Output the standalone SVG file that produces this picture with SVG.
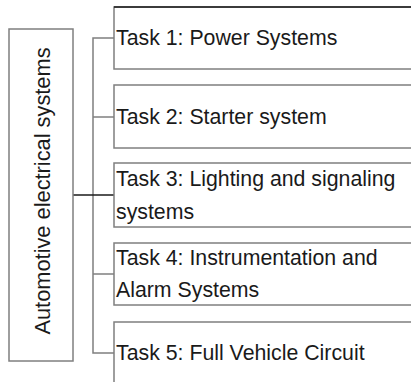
<svg xmlns="http://www.w3.org/2000/svg" width="411" height="382" viewBox="0 0 411 382">
<style>
.box{fill:#fff;stroke:#7f7f7f;stroke-width:1.5}
.ln{fill:none;stroke:#7f7f7f;stroke-width:1.5}
.dk{fill:none;stroke:#1a1a1a;stroke-width:1.5}
text{font-family:"Liberation Sans",Arial,sans-serif;font-size:21.3px;fill:#1a1a1a}
.rt{font-size:21.8px}
</style>
<rect width="411" height="382" fill="#fff"/>
<g id="connectors">
<polyline class="ln" points="114,38 93,38 93,353 114,353"/>
<line class="ln" x1="93" y1="117" x2="114" y2="117"/>
<line class="ln" x1="93" y1="274" x2="114" y2="274"/>
<line class="dk" x1="73" y1="195" x2="114" y2="195"/>
</g>
<g id="root">
<rect class="box" x="9" y="29" width="64" height="332"/>
<text class="rt" transform="translate(50,191) rotate(-90)" text-anchor="middle">Automotive electrical systems</text>
</g>
<g id="task1">
<rect class="box" x="114" y="7" width="310" height="62"/>
<line class="dk" x1="114" y1="7" x2="411" y2="7"/>
<text x="116" y="45">Task 1: Power Systems</text>
</g>
<g id="task2">
<rect class="box" x="114" y="85" width="310" height="63"/>
<text x="116" y="124">Task 2: Starter system</text>
</g>
<g id="task3">
<rect class="box" x="114" y="163" width="310" height="64"/>
<text x="116" y="186">Task 3: Lighting and signaling</text>
<text x="116" y="219">systems</text>
</g>
<g id="task4">
<rect class="box" x="114" y="243" width="310" height="62"/>
<text x="116" y="265">Task 4: Instrumentation and</text>
<text x="116" y="297">Alarm Systems</text>
</g>
<g id="task5">
<rect class="box" x="114" y="322" width="310" height="70"/>
<text x="116" y="360">Task 5: Full Vehicle Circuit</text>
</g>
</svg>
